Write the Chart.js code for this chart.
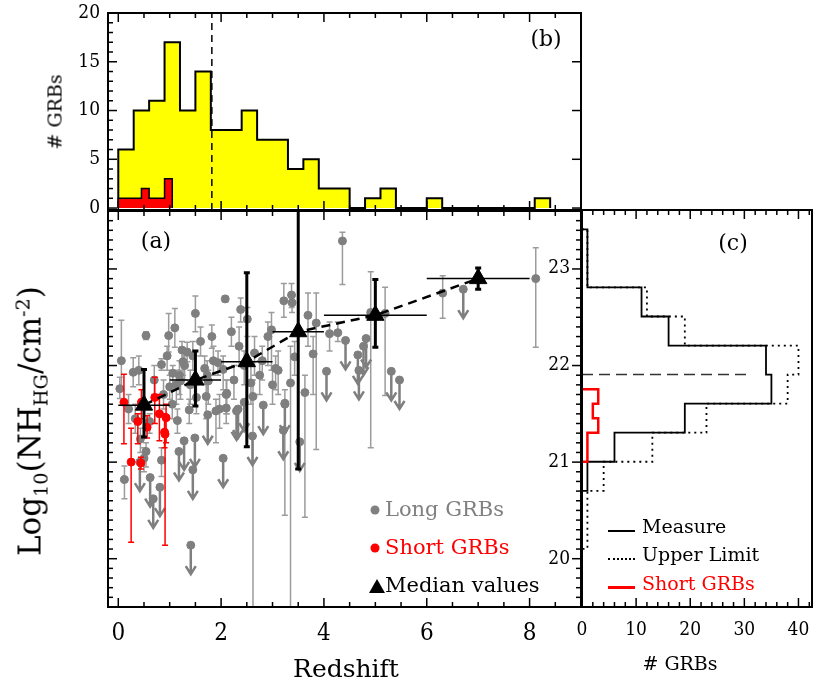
<!DOCTYPE html>
<html>
<head>
<meta charset="utf-8">
<script src="https://cdn.jsdelivr.net/npm/chart.js@4.4.0/dist/chart.umd.min.js"></script>
<style>
  html, body { margin: 0; padding: 0; background: #fff; }
  #page { position: relative; width: 830px; height: 699px; overflow: hidden; font-family: 'DejaVu Serif', serif; }
  .box { position: absolute; }
  .txt { position: absolute; white-space: nowrap; line-height: 1; transform: translate(-50%, -50%); }
  .lt { position: absolute; white-space: nowrap; line-height: 1; transform: translateY(-50%); }
  sub, sup { font-size: 62%; line-height: 0; }
  .dot { position: absolute; width: 9px; height: 9px; border-radius: 50%; transform: translate(-50%, -50%); }
  .tri { position: absolute; width: 0; height: 0; border-left: 8px solid transparent; border-right: 8px solid transparent; border-bottom: 14px solid #000; transform: translate(-50%, -50%); }
  .ln { position: absolute; width: 27px; height: 0; }
</style>
</head>
<body>
<div id="page">
  <div class="box" style="left:0;top:0;width:600px;height:215px"><canvas id="histZ"></canvas></div>
  <div class="box" style="left:0;top:200px;width:600px;height:499px"><canvas id="scatter"></canvas></div>
  <div class="box" style="left:530px;top:200px;width:300px;height:499px"><canvas id="histNH"></canvas></div>

  <!-- axis titles -->
  <div class="txt" style="left:30px;top:421px;font-size:31px;transform:translate(-50%,-50%) rotate(-90deg)">Log<sub>10</sub>(NH<sub>HG</sub>/cm<sup>-2</sup>)</div>
  <div class="txt" style="left:55px;top:112px;font-size:19px;transform:translate(-50%,-50%) rotate(-90deg)"># GRBs</div>
  <div class="txt" style="left:346px;top:668px;font-size:25px">Redshift</div>
  <div class="txt" style="left:680px;top:663px;font-size:19px"># GRBs</div>

  <!-- panel labels -->
  <div class="txt" style="left:156px;top:241px;font-size:22px">(a)</div>
  <div class="txt" style="left:546px;top:39px;font-size:22px">(b)</div>
  <div class="txt" style="left:733px;top:243px;font-size:22px">(c)</div>

  <!-- legend (a) -->
  <div class="dot" style="left:375px;top:510px;background:#808080"></div>
  <div class="lt" style="left:385px;top:509px;font-size:21px;color:#808080">Long GRBs</div>
  <div class="dot" style="left:375px;top:548px;background:#ff0000"></div>
  <div class="lt" style="left:385px;top:547px;font-size:21px;color:#ff0000">Short GRBs</div>
  <div class="tri" style="left:377px;top:586px"></div>
  <div class="lt" style="left:385px;top:585px;font-size:21px;color:#000">Median values</div>

  <!-- legend (c) -->
  <div class="ln" style="left:608px;top:530px;border-top:2px solid #000"></div>
  <div class="lt" style="left:642px;top:526px;font-size:19px">Measure</div>
  <div class="ln" style="left:608px;top:558px;border-top:2px dotted #000"></div>
  <div class="lt" style="left:642px;top:554px;font-size:19px">Upper Limit</div>
  <div class="ln" style="left:608px;top:586px;border-top:3px solid #ff0000"></div>
  <div class="lt" style="left:642px;top:583px;font-size:19px;color:#ff0000">Short GRBs</div>
</div>

<script>
// redshift histogram (b): bin edges and counts
const zEdges = [0, 0.3, 0.6, 0.9, 1.2, 1.5, 1.8, 2.1, 2.4, 2.7, 3.0, 3.3, 3.6, 3.9, 4.2, 4.5, 4.8, 5.1, 5.4, 5.7, 6.0, 6.3, 6.6, 6.9, 7.2, 7.5, 7.8, 8.1, 8.4];
const zCounts = [6, 10, 11, 17, 10, 14, 8, 8, 10, 7, 7, 4, 5, 2, 2, 0, 1, 2, 0, 0, 1, 0, 0, 0, 0, 0, 0, 1];
const zShortEdges = [0, 0.15, 0.3, 0.45, 0.6, 0.75, 0.9, 1.05];
const zShortCounts = [1, 1, 1, 2, 1, 1, 3];
const zMedian = 1.82;

// NH histogram (c): bin edges (high to low) and counts
const nhEdges = [23.4, 23.1, 22.8, 22.5, 22.2, 21.9, 21.6, 21.3, 21.0, 20.7];
const nhMeasure = [1, 1, 11, 16, 34, 35, 19, 6, 1];
const nhLimitEdges = [23.4, 23.1, 22.8, 22.5, 22.2, 21.9, 21.6, 21.3, 21.0, 20.7, 20.4, 20.1];
const nhWithLimits = [1, 1, 12, 19, 40, 38, 23, 13, 4, 1, 1];
const nhShortEdges = [21.75, 21.6, 21.45, 21.3, 21.15, 21.0];
const nhShortCounts = [3, 2, 3, 1, 1];
const nhMedian = 21.9;
const nhMedianLineEnd = 30.6;

// scatter (a): [redshift, logNH, lower, upper]
const longGRBs = [
  [0.06, 22.05, 21.75, 22.47], [0.29, 21.93, 21.78, 22.08], [0.03, 21.76, 21.66, 21.88],
  [0.54, 22.31, 22.27, 22.35], [0.98, 22.31, 22.14, 22.54], [1.10, 22.39, 22.19, 22.59],
  [1.50, 22.54, 22.35, 22.72], [2.08, 22.69, 22.66, 22.72], [1.82, 22.30, 22.18, 22.42],
  [0.84, 22.01, 21.95, 22.07], [1.24, 22.16, 22.05, 22.25], [1.34, 22.14, 22.04, 22.24],
  [1.26, 22.04, 21.90, 22.15], [1.29, 22.00, 21.85, 22.10], [1.06, 21.92, 21.80, 22.00],
  [1.19, 21.90, 21.70, 22.05], [1.21, 21.84, 21.65, 21.95], [1.68, 21.97, 21.80, 22.10],
  [1.73, 21.90, 21.70, 22.05], [1.75, 21.84, 21.60, 21.95], [1.94, 22.03, 21.90, 22.15],
  [2.04, 21.96, 21.75, 22.10], [2.10, 21.70, 21.50, 21.85], [1.00, 21.78, 21.65, 21.90],
  [1.13, 21.80, 21.60, 21.95], [1.52, 21.67, 21.50, 21.80], [1.71, 21.68, 21.45, 21.85],
  [1.15, 21.43, 21.30, 21.55], [0.61, 21.42, 21.30, 21.50], [0.54, 21.11, 20.95, 21.20],
  [0.50, 21.04, 20.90, 21.15], [0.12, 20.82, 20.62, 20.96], [0.84, 21.02, 20.85, 21.15],
  [1.97, 21.55, 21.35, 21.70], [2.10, 21.56, 21.40, 21.75], [4.36, 23.29, 22.84, 23.38],
  [3.22, 22.67, 22.50, 22.85], [3.37, 22.73, 22.60, 22.85], [3.38, 22.65, 22.55, 22.75],
  [2.38, 22.58, 22.45, 22.70], [2.51, 22.48, 22.30, 22.60], [3.69, 22.52, 22.20, 22.75],
  [3.85, 22.44, 21.13, 22.75], [4.11, 22.33, 22.15, 22.45], [4.27, 22.34, 22.25, 22.45],
  [2.35, 22.20, 22.00, 22.40], [2.65, 22.13, 21.90, 22.30], [2.91, 22.30, 22.00, 22.45],
  [2.98, 22.37, 21.95, 22.55], [3.43, 22.09, 21.90, 22.25], [3.79, 22.12, 21.70, 22.30],
  [3.06, 21.97, 21.75, 22.10], [3.11, 21.95, 21.70, 22.15], [3.35, 21.82, 19.00, 22.20],
  [3.63, 21.72, 20.43, 21.90], [2.62, 21.68, 19.00, 21.85], [2.58, 21.82, 21.60, 22.00],
  [2.75, 21.90, 21.70, 22.05], [6.31, 22.75, 22.49, 22.93], [8.12, 22.90, 22.19, 23.22],
  [5.19, 22.54, 21.69, 22.81], [4.91, 22.55, 21.15, 22.97], [1.90, 21.53, 21.20, 21.65],
  [2.11, 21.71, 21.50, 21.85], [1.38, 21.54, 21.40, 21.65], [0.40, 21.95, 21.80, 22.10],
  [0.70, 21.85, 21.70, 22.00], [0.95, 22.10, 21.95, 22.20], [0.88, 21.70, 21.55, 21.85],
  [1.45, 22.10, 21.95, 22.25], [1.60, 22.25, 22.10, 22.40], [1.85, 22.05, 21.90, 22.20],
  [2.25, 21.85, 21.65, 22.00], [2.45, 22.00, 21.80, 22.15], [2.80, 22.05, 21.85, 22.20],
  [3.00, 21.80, 21.60, 21.95], [0.20, 21.55, 21.40, 21.70], [0.33, 21.45, 21.30, 21.60],
  [1.05, 21.60, 21.45, 21.75], [1.40, 21.80, 21.60, 21.95], [3.24, 21.61, 20.45, 21.75],
  [0.43, 21.24, 21.10, 21.35], [2.20, 22.35, 22.20, 22.50]
];
// upper limits: [redshift, logNH]
const limitGRBs = [
  [0.42, 21.00], [0.62, 20.84], [0.68, 20.62], [0.81, 20.74], [1.18, 21.11], [1.28, 21.22],
  [1.45, 20.92], [1.41, 20.14], [1.49, 21.25], [1.74, 21.49], [2.04, 21.04], [2.30, 21.53],
  [2.61, 21.27], [2.82, 21.59], [3.21, 21.33], [3.24, 21.60], [3.53, 21.21], [4.05, 21.94],
  [4.42, 22.26], [4.66, 22.11], [4.68, 21.95], [4.77, 22.20], [4.82, 22.28], [5.31, 21.94],
  [5.47, 21.85], [6.71, 22.79], [2.45, 21.62], [2.33, 21.55]
];
const shortGRBs = [
  [0.11, 21.62, 21.19, 21.91], [0.25, 21.00, 20.17, 21.35], [0.38, 21.42, 21.19, 21.50],
  [0.44, 20.99, 20.93, 21.05], [0.45, 21.62, 21.45, 21.75], [0.56, 21.36, 21.25, 21.48],
  [0.71, 21.67, 21.40, 21.88], [0.80, 21.50, 21.22, 21.70], [0.90, 21.31, 21.15, 21.50],
  [0.91, 21.29, 20.14, 21.45], [0.93, 21.46, 21.20, 21.60]
];
const medianX = [0.5, 1.5, 2.5, 3.5, 5, 7];
const medianY = [21.59, 21.85, 22.04, 22.35, 22.52, 22.90];
const medianLo = [21.26, 21.58, 21.16, 20.93, 22.19, 22.79];
const medianHi = [21.96, 22.15, 22.96, 24.0, 22.89, 23.01];
const medianXLo = [0, 1, 2, 3, 4, 6];
const medianXHi = [1, 2, 3, 4, 6, 8];
const limitArrow = 0.3;

const TICK_FONT = "'DejaVu Serif Condensed', 'DejaVu Serif', serif";

function onStep(v, step) {
  const k = v / step;
  return Math.abs(k - Math.round(k)) < 1e-6;
}

// fixes an axis box size so the plot frames line up across the three charts
function fixedAxis(size, horizontal) {
  return function (s) {
    if (horizontal) s.height = size; else s.width = size;
    s.paddingLeft = s.paddingRight = s.paddingTop = s.paddingBottom = 0;
  };
}

function histX(edges, counts) {
  const pts = [{ x: edges[0], y: 0 }];
  counts.forEach((c, i) => {
    pts.push({ x: edges[i], y: c });
    pts.push({ x: edges[i + 1], y: c });
  });
  pts.push({ x: edges[edges.length - 1], y: 0 });
  return pts;
}

function histY(edges, counts) {
  const pts = [{ x: 0, y: edges[0] }];
  counts.forEach((c, i) => {
    pts.push({ x: c, y: edges[i] });
    pts.push({ x: c, y: edges[i + 1] });
  });
  pts.push({ x: 0, y: edges[edges.length - 1] });
  return pts;
}

// inward IDL-style ticks (minor and major) and the plot frame
function frameTicks(sides) {
  return {
    id: 'frameTicks',
    afterDraw(chart) {
      const ctx = chart.ctx, a = chart.chartArea;
      ctx.save();
      ctx.setLineDash([]);
      ctx.strokeStyle = '#000';
      ctx.lineWidth = 1.5;
      sides.forEach(side => {
        const s = chart.scales[side.scale];
        const k0 = Math.ceil(s.min / side.minor - 1e-6);
        const k1 = Math.floor(s.max / side.minor + 1e-6);
        for (let k = k0; k <= k1; k++) {
          const big = onStep(k * side.minor, side.major);
          if (side.majorOnly && !big) continue;
          const len = big ? 9 : 5;
          const p = s.getPixelForValue(k * side.minor);
          ctx.beginPath();
          if (side.edge === 'bottom') { ctx.moveTo(p, a.bottom); ctx.lineTo(p, a.bottom - len); }
          if (side.edge === 'top') { ctx.moveTo(p, a.top); ctx.lineTo(p, a.top + len); }
          if (side.edge === 'left') { ctx.moveTo(a.left, p); ctx.lineTo(a.left + len, p); }
          if (side.edge === 'right') { ctx.moveTo(a.right, p); ctx.lineTo(a.right - len, p); }
          ctx.stroke();
        }
      });
      ctx.lineWidth = 2;
      ctx.strokeRect(a.left, a.top, a.right - a.left, a.bottom - a.top);
      ctx.restore();
    }
  };
}

// error bars and upper-limit arrows, drawn just under each dataset's points
const errorBars = {
  id: 'errorBars',
  beforeDatasetDraw(chart, args) {
    const ds = chart.data.datasets[args.index];
    if (!ds.errLo && !ds.arrowLen) return;
    const xs = chart.scales.x, ys = chart.scales.y, a = chart.chartArea, ctx = chart.ctx;
    ctx.save();
    ctx.beginPath();
    ctx.rect(a.left, a.top, a.right - a.left, a.bottom - a.top);
    ctx.clip();
    ctx.setLineDash([]);
    ctx.strokeStyle = ds.errColor;
    ctx.lineWidth = ds.errWidth;
    ds.data.forEach((pt, i) => {
      const px = xs.getPixelForValue(pt.x), py = ys.getPixelForValue(pt.y);
      if (ds.xLo) {
        ctx.save();
        ctx.lineWidth = 1.5;
        ctx.beginPath();
        ctx.moveTo(xs.getPixelForValue(ds.xLo[i]), py);
        ctx.lineTo(xs.getPixelForValue(ds.xHi[i]), py);
        ctx.stroke();
        ctx.restore();
      }
      if (ds.errLo) {
        const lo = ys.getPixelForValue(ds.errLo[i]), hi = ys.getPixelForValue(ds.errHi[i]);
        ctx.beginPath();
        ctx.moveTo(px, lo); ctx.lineTo(px, hi);
        ctx.moveTo(px - ds.cap, lo); ctx.lineTo(px + ds.cap, lo);
        ctx.moveTo(px - ds.cap, hi); ctx.lineTo(px + ds.cap, hi);
        ctx.stroke();
      }
      if (ds.arrowLen) {
        const end = ys.getPixelForValue(pt.y - ds.arrowLen);
        ctx.beginPath();
        ctx.moveTo(px, py); ctx.lineTo(px, end);
        ctx.moveTo(px - 5, end - 8); ctx.lineTo(px, end); ctx.lineTo(px + 5, end - 8);
        ctx.stroke();
      }
    });
    ctx.restore();
  }
};

const base = {
  responsive: true,
  maintainAspectRatio: false,
  animation: false,
  events: [],
  plugins: { legend: { display: false }, tooltip: { enabled: false } }
};

const zAxis = (height, showLabels) => ({
  type: 'linear', min: -0.2, max: 9,
  afterFit: fixedAxis(height, true),
  grid: { display: false, drawTicks: false },
  border: { display: false },
  ticks: {
    display: showLabels, stepSize: 2, includeBounds: false, autoSkip: false, maxRotation: 0, padding: 12,
    color: '#000', font: { family: TICK_FONT, size: 24 }
  }
});

const nhAxis = (width, showLabels) => ({
  type: 'linear', min: 19.5, max: 23.6,
  afterFit: fixedAxis(width, false),
  grid: { display: false, drawTicks: false },
  border: { display: false },
  ticks: {
    display: showLabels, stepSize: 1, includeBounds: false, autoSkip: false, padding: 12,
    color: '#000', font: { family: TICK_FONT, size: 19 }
  }
});

// (b) redshift histogram
new Chart(document.getElementById('histZ'), {
  type: 'scatter',
  data: {
    datasets: [
      { data: [{ x: zMedian, y: -0.2 }, { x: zMedian, y: 20 }], showLine: true, borderColor: '#000',
        borderWidth: 1.5, borderDash: [7, 5], pointRadius: 0, order: -1 },
      { data: histX(zShortEdges, zShortCounts), showLine: true, fill: 'origin', backgroundColor: '#ff0000',
        borderColor: '#000', borderWidth: 1.5, pointRadius: 0, order: 0 },
      { data: histX(zEdges, zCounts), showLine: true, fill: 'origin', backgroundColor: '#ffff00',
        borderColor: '#000', borderWidth: 2, pointRadius: 0, order: 1 }
    ]
  },
  options: Object.assign({}, base, {
    layout: { padding: { left: 0, right: 19, top: 13, bottom: 0 } },
    scales: {
      x: zAxis(5, false),
      y: {
        type: 'linear', min: -0.2, max: 20,
        afterFit: fixedAxis(108, false),
        grid: { display: false, drawTicks: false },
        border: { display: false },
        ticks: {
          stepSize: 5, includeBounds: false, autoSkip: false, padding: 8, color: '#000',
          font: { family: TICK_FONT, size: 19 }
        }
      }
    }
  }),
  plugins: [frameTicks([
    { scale: 'y', edge: 'left', minor: 1, major: 5 },
    { scale: 'y', edge: 'right', minor: 1, major: 5, majorOnly: true },
    { scale: 'x', edge: 'top', minor: 0.5, major: 2 },
    { scale: 'x', edge: 'bottom', minor: 0.5, major: 2 }
  ])]
});

// (a) NH vs redshift
new Chart(document.getElementById('scatter'), {
  type: 'scatter',
  data: {
    datasets: [
      { data: medianX.map((x, i) => ({ x, y: medianY[i] })), pointStyle: 'triangle', pointRadius: 10,
        backgroundColor: '#000', borderColor: '#000', errLo: medianLo, errHi: medianHi,
        xLo: medianXLo, xHi: medianXHi, errColor: '#000', errWidth: 3, cap: 3, order: 0 },
      { data: medianX.map((x, i) => ({ x, y: medianY[i] })), showLine: true, borderColor: '#000',
        borderWidth: 2.5, borderDash: [9, 6], pointRadius: 0, order: 1 },
      { data: shortGRBs.map(r => ({ x: r[0], y: r[1] })), pointRadius: 4, backgroundColor: '#ff0000',
        borderColor: '#ff0000', errLo: shortGRBs.map(r => r[2]), errHi: shortGRBs.map(r => r[3]),
        errColor: '#ff0000', errWidth: 1.5, cap: 3, order: 2 },
      { data: limitGRBs.map(r => ({ x: r[0], y: r[1] })), pointRadius: 4, backgroundColor: '#7f7f7f',
        borderColor: '#7f7f7f', arrowLen: limitArrow, errColor: '#7f7f7f', errWidth: 2.5, order: 3 },
      { data: longGRBs.map(r => ({ x: r[0], y: r[1] })), pointRadius: 4, backgroundColor: '#7f7f7f',
        borderColor: '#7f7f7f', errLo: longGRBs.map(r => r[2]), errHi: longGRBs.map(r => r[3]),
        errColor: '#9c9c9c', errWidth: 1.5, cap: 3, order: 4 }
    ]
  },
  options: Object.assign({}, base, {
    layout: { padding: { left: 0, right: 19, top: 10, bottom: 0 } },
    scales: { x: zAxis(92, true), y: nhAxis(108, false) }
  }),
  plugins: [errorBars, frameTicks([
    { scale: 'x', edge: 'bottom', minor: 0.5, major: 2 },
    { scale: 'x', edge: 'top', minor: 0.5, major: 2 },
    { scale: 'y', edge: 'left', minor: 0.1, major: 1 },
    { scale: 'y', edge: 'right', minor: 0.1, major: 1 }
  ])]
});

// (c) NH histogram
new Chart(document.getElementById('histNH'), {
  type: 'scatter',
  data: {
    datasets: [
      { data: [{ x: 0, y: nhMedian }, { x: nhMedianLineEnd, y: nhMedian }], showLine: true,
        borderColor: '#333', borderWidth: 1.5, borderDash: [11, 6], pointRadius: 0 },
      { data: histY(nhShortEdges, nhShortCounts), showLine: true, borderColor: '#ff0000',
        borderWidth: 2.5, pointRadius: 0 },
      { data: histY(nhEdges, nhMeasure), showLine: true, borderColor: '#000', borderWidth: 1.8, pointRadius: 0 },
      { data: histY(nhLimitEdges, nhWithLimits), showLine: true, borderColor: '#000', borderWidth: 1.8,
        borderDash: [2, 4], pointRadius: 0 }
    ]
  },
  options: Object.assign({}, base, {
    layout: { padding: { left: 0, right: 18, top: 10, bottom: 0 } },
    scales: {
      x: {
        type: 'linear', min: 0, max: 42.5,
        afterFit: fixedAxis(92, true),
        grid: { display: false, drawTicks: false },
        border: { display: false },
        ticks: {
          stepSize: 10, includeBounds: false, autoSkip: false, maxRotation: 0, padding: 12, color: '#000',
          font: { family: TICK_FONT, size: 19 }
        }
      },
      y: nhAxis(52, true)
    }
  }),
  plugins: [frameTicks([
    { scale: 'x', edge: 'top', minor: 2, major: 10 },
    { scale: 'x', edge: 'bottom', minor: 2, major: 10 }
  ])]
});
</script>
</body>
</html>
